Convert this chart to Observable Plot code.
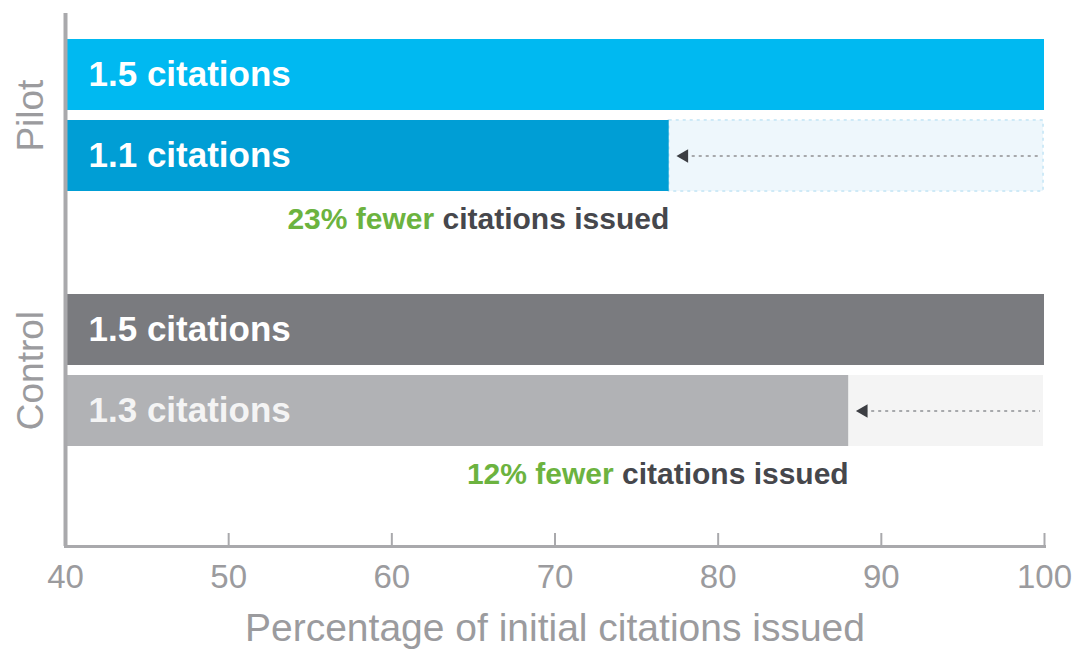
<!DOCTYPE html>
<html>
<head>
<meta charset="utf-8">
<script src="https://cdn.jsdelivr.net/npm/d3@7"></script>
<script src="https://cdn.jsdelivr.net/npm/@observablehq/plot@0.6"></script>
<style>
  body { margin: 0; background: #fff; }
  #chart { width: 1077px; height: 649px; }
</style>
</head>
<body>
<div id="chart"></div>
<script>
// ---- data ----
const groups = ["Pilot", "Control"];
const initialPct = [100, 100];
const afterPct = [77, 88];
const initialLabels = ["1.5 citations", "1.5 citations"];
const afterLabels = ["1.1 citations", "1.3 citations"];
const reductionLabels = ["23% fewer", "12% fewer"];
const noteSuffix = "citations issued";
const xTicks = [40, 50, 60, 70, 80, 90, 100];
const xTitle = "Percentage of initial citations issued";

// ---- structure ----
const rowKinds = ["before", "after", "note"];
const rowKey = (g, k) => `${g}|${k}`;
const yDomain = groups.flatMap(g => rowKinds.map(k => rowKey(g, k)));
const table = groups.map((g, i) => ({
  group: g, initial: initialPct[i], after: afterPct[i],
  initialLabel: initialLabels[i], afterLabel: afterLabels[i], reduction: reductionLabels[i]
}));

// ---- styles ----
const FONT = '"Liberation Sans", Arial, Helvetica, sans-serif';
const palette = {
  Pilot:   {initial: "#00B9F1", after: "#009ED5", rest: "#EEF7FC", restStroke: "#CFEAF7", afterText: "#ffffff"},
  Control: {initial: "#7A7B7F", after: "#B1B2B5", rest: "#F4F4F4", restStroke: "none", afterText: "#f4f4f4"}
};
const groupShift = {Pilot: 0, Control: 12};
const axisGrey = "#A9A9AC";
const labelGrey = "#9B9B9E";
const noteFontSize = 30;
const ctx = document.createElement("canvas").getContext("2d");
ctx.font = `bold ${noteFontSize}px ${FONT}`;
const suffixWidth = ctx.measureText(" " + noteSuffix).width;

function groupMarks(d) {
  const c = palette[d.group], dy = groupShift[d.group], data = [d];
  const yB = () => rowKey(d.group, "before");
  const yA = () => rowKey(d.group, "after");
  const yN = () => rowKey(d.group, "note");
  return [
    Plot.barX(data, {x1: "after", x2: "initial", y: yA, dy, fill: c.rest, stroke: c.restStroke, strokeWidth: 2, strokeDasharray: "3,4", insetRight: 1}),
    Plot.barX(data, {x1: () => xTicks[0], x2: "initial", y: yB, dy, fill: c.initial}),
    Plot.barX(data, {x1: () => xTicks[0], x2: "after", y: yA, dy, fill: c.after}),
    Plot.text(data, {text: "initialLabel", y: yB, frameAnchor: "left", dx: 23, dy, textAnchor: "start", fill: "#ffffff", fontSize: 35, fontWeight: "bold", fontFamily: FONT}),
    Plot.text(data, {text: "afterLabel", y: yA, frameAnchor: "left", dx: 23, dy, textAnchor: "start", fill: c.afterText, fontSize: 35, fontWeight: "bold", fontFamily: FONT}),
    Plot.ruleY(data, {x1: "after", x2: "initial", y: yA, dy, insetLeft: 16, insetRight: 4, stroke: "#A7A9AC", strokeWidth: 2, strokeDasharray: "3,4"}),
    Plot.dot(data, {x: "after", y: yA, dx: 15, dy, symbol: "triangle", rotate: -90, r: 5, fill: "#3C3E43", stroke: null}),
    Plot.text(data, {x: "after", y: yN, text: () => noteSuffix, textAnchor: "end", dy: dy - 18, fill: "#46474C", fontSize: noteFontSize, fontWeight: "bold", fontFamily: FONT}),
    Plot.text(data, {x: "after", y: yN, text: "reduction", textAnchor: "end", dx: -suffixWidth, dy: dy - 18, fill: "#6CB33F", fontSize: noteFontSize, fontWeight: "bold", fontFamily: FONT}),
    Plot.text(data, {text: "group", y: yB, frameAnchor: "left", textAnchor: "middle", dx: -34, dy: dy + 40.6, rotate: -90, fill: labelGrey, fontSize: 37, fontFamily: FONT})
  ];
}

const chart = Plot.plot({
  width: 1077,
  height: 649,
  marginLeft: 65,
  marginRight: 33,
  marginTop: 13,
  marginBottom: 103,
  style: {background: "#fff", fontFamily: FONT},
  x: {domain: [xTicks[0], xTicks[xTicks.length - 1]]},
  y: {domain: yDomain, type: "band", paddingInner: 0.12, paddingOuter: 0.34, align: 0.466, axis: null},
  marks: [
    ...table.flatMap(groupMarks),
    Plot.ruleX([xTicks[0]], {stroke: axisGrey, strokeWidth: 4}),
    Plot.ruleX(xTicks.slice(1), {stroke: axisGrey, strokeWidth: 2, insetTop: 520}),
    Plot.frame({anchor: "bottom", stroke: axisGrey, strokeWidth: 3}),
    Plot.axisX(xTicks, {tickSize: 0, tickPadding: 18, fontSize: 33, fill: labelGrey, fontFamily: FONT, label: null}),
    Plot.text([xTitle], {text: d => d, frameAnchor: "bottom", dy: 94, fontSize: 39, fill: labelGrey, fontFamily: FONT})
  ]
});
document.getElementById("chart").appendChild(chart);
</script>
</body>
</html>
